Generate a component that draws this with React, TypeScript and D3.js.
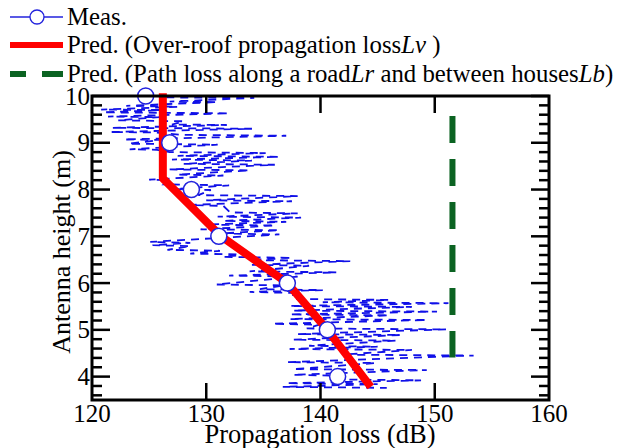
import React from "react";
import * as d3 from "d3";

const W = 619;
const H = 448;
const FONT = "Liberation Serif, Times New Roman, DejaVu Serif, serif";

// averaged measurement (circles)
const measHeight = [10, 9, 8, 7, 6, 5, 4];
const measLoss = [124.7, 126.8, 128.7, 131.1, 137.1, 140.6, 141.5];

// raw measured trace: [antenna height (m), loss (dB)]
const rawTrace: [number, number][] = [
  [9.97, 126.5], [9.96, 134.2], [9.88, 126.8], [9.87, 131.0],
  [9.79, 123.0], [9.77, 127.5], [9.71, 120.8], [9.70, 126.0],
  [9.65, 121.0], [9.63, 132.0], [9.56, 121.4], [9.55, 125.9],
  [9.48, 122.3], [9.46, 128.0], [9.39, 127.0], [9.38, 131.8],
  [9.32, 121.8], [9.30, 134.0], [9.23, 121.6], [9.22, 125.6],
  [9.17, 127.8], [9.15, 137.0], [9.07, 122.8], [9.06, 126.0],
  [8.98, 123.2], [8.96, 131.0], [8.86, 123.3], [8.85, 125.7],
  [8.80, 126.8], [8.78, 135.2], [8.72, 127.5], [8.70, 136.4],
  [8.64, 127.0], [8.62, 134.0], [8.55, 128.0], [8.53, 136.0],
  [8.43, 126.8], [8.41, 133.8], [8.32, 127.5], [8.30, 131.5],
  [8.21, 125.0], [8.20, 126.8], [8.11, 126.3], [8.09, 132.0],
  [8.01, 127.3], [7.99, 130.4], [7.88, 129.3], [7.86, 138.0],
  [7.77, 130.0], [7.75, 137.5], [7.67, 128.5], [7.65, 131.5],
  [7.51, 132.1], [7.49, 138.0], [7.42, 131.0], [7.40, 138.3],
  [7.33, 131.5], [7.31, 137.0], [7.25, 130.0], [7.23, 136.0],
  [7.15, 129.5], [7.13, 136.4], [7.06, 131.2], [7.04, 136.4],
  [6.88, 125.1], [6.86, 128.6], [6.81, 125.3], [6.79, 128.6],
  [6.71, 126.6], [6.69, 131.2], [6.63, 128.6], [6.61, 133.5],
  [6.56, 131.5], [6.54, 137.5], [6.49, 133.8], [6.47, 142.6],
  [6.39, 134.0], [6.37, 139.0], [6.25, 133.8], [6.23, 141.4],
  [6.16, 132.0], [6.14, 138.0], [5.97, 130.9], [5.95, 136.8],
  [5.87, 134.7], [5.85, 140.2], [5.81, 133.8], [5.79, 137.6],
  [5.66, 137.6], [5.64, 146.0], [5.59, 140.2], [5.57, 151.2],
  [5.51, 137.3], [5.49, 148.0], [5.41, 137.6], [5.39, 150.2],
  [5.33, 137.3], [5.31, 146.0], [5.23, 137.3], [5.21, 149.3],
  [5.13, 135.8], [5.11, 139.9], [5.03, 138.8], [5.01, 151.0],
  [4.91, 138.0], [4.89, 147.0], [4.79, 137.6], [4.77, 146.6],
  [4.66, 139.0], [4.64, 145.0], [4.59, 137.3], [4.57, 148.0],
  [4.47, 142.0], [4.45, 153.4], [4.31, 137.1], [4.29, 144.8],
  [4.16, 137.6], [4.14, 149.3], [4.04, 137.6], [4.02, 141.0],
  [3.94, 141.5], [3.92, 148.8], [3.86, 137.0], [3.84, 145.0],
  [3.78, 136.7], [3.76, 145.8],
];

// over-roof propagation loss Lv
const lvHeight = [10.06, 8.24, 7.0, 6.0, 5.0, 3.78];
const lvLoss = [126.2, 126.2, 131.3, 137.1, 140.6, 144.4];

// path loss along a road Lr and between houses Lb
const lrHeight = [9.57, 4.41];
const lrLoss = [151.55, 151.55];

const xTicks = [120, 130, 140, 150, 160];
const yTicks = [4, 5, 6, 7, 8, 9, 10];

export default function App() {
  const x = d3.scaleLinear().domain([120, 160]).range([92, 549]);
  const y = d3.scaleLinear().domain([3.5, 10]).range([400, 96]);
  const yMinor = d3.range(36, 101, 2).map((v) => v / 10);

  const line = d3
    .line<[number, number]>()
    .x((d) => x(d[1]))
    .y((d) => y(d[0]));

  const rawPath = line(rawTrace) as string;
  const lvPath = line(lvHeight.map((h, i) => [h, lvLoss[i]])) as string;
  const lrPath = line(lrHeight.map((h, i) => [h, lrLoss[i]])) as string;

  const [x0, x1] = x.range();
  const [y0, y1] = y.range();
  const txt = { fontFamily: FONT };

  return (
    <svg
      width={W}
      height={H}
      style={{ position: "absolute", left: 0, top: 0, background: "#fff", fontFamily: FONT }}
    >
      {/* raw measurement */}
      <path d={rawPath} fill="none" stroke="#1010e8" strokeWidth={1.8} strokeDasharray="8 6" />

      {/* Lr + Lb prediction */}
      <path d={lrPath} fill="none" stroke="#0b6322" strokeWidth={6} strokeDasharray="27 16" />

      {/* Lv prediction */}
      <path d={lvPath} fill="none" stroke="#ff0000" strokeWidth={8} strokeLinejoin="round" />

      {/* averaged measurement */}
      {measHeight.map((h, i) => (
        <circle key={i} cx={x(measLoss[i])} cy={y(h)} r={8} fill="#fff" stroke="#2222dd" strokeWidth={1.5} />
      ))}

      {/* frame */}
      <rect x={x0} y={y1} width={x1 - x0} height={y0 - y1} fill="none" stroke="#000" strokeWidth={3} />

      {/* x ticks */}
      {xTicks.slice(1, -1).map((t) => (
        <g key={"xt" + t} stroke="#000" strokeWidth={2.5}>
          <line x1={x(t)} x2={x(t)} y1={y0} y2={y0 - 17} />
          <line x1={x(t)} x2={x(t)} y1={y1} y2={y1 + 17} />
        </g>
      ))}
      {xTicks.map((t) => (
        <text key={"xl" + t} x={x(t)} y={422} fontSize={25} textAnchor="middle" style={txt}>
          {t}
        </text>
      ))}

      {/* y ticks */}
      {yMinor.map((t) => {
        const major = yTicks.includes(t);
        const len = major ? 18 : 10;
        return (
          <g key={"yt" + t} stroke="#000" strokeWidth={2.5}>
            <line x1={x0} x2={x0 + len} y1={y(t)} y2={y(t)} />
            <line x1={x1} x2={x1 - len} y1={y(t)} y2={y(t)} />
          </g>
        );
      })}
      {yTicks.map((t) => (
        <text key={"yl" + t} x={90} y={y(t) + 8.5} fontSize={25} textAnchor="end" style={txt}>
          {t}
        </text>
      ))}

      {/* axis titles */}
      <text x={320} y={443} fontSize={26.5} textAnchor="middle" style={txt}>
        Propagation loss (dB)
      </text>
      <text transform="translate(70,252) rotate(-90)" fontSize={26} textAnchor="middle" style={txt}>
        Antenna height (m)
      </text>

      {/* legend */}
      <g fontSize={24.8}>
        <line x1={10} x2={63} y1={17} y2={17} stroke="#2222dd" strokeWidth={1.3} />
        <circle cx={37} cy={17} r={7} fill="#fff" stroke="#2222dd" strokeWidth={1.3} />
        <text x={67} y={25} style={txt}>Meas.</text>

        <line x1={10} x2={63} y1={45} y2={45} stroke="#ff0000" strokeWidth={6} />
        <text x={67} y={53} style={txt}>
          Pred. (Over-roof propagation loss<tspan fontStyle="italic">Lv</tspan> )
        </text>

        <line x1={10} x2={63} y1={74} y2={74} stroke="#0b6322" strokeWidth={6} strokeDasharray="27 16" strokeDashoffset={11} />
        <text x={67} y={82} style={txt}>
          Pred. (Path loss along a road<tspan fontStyle="italic">Lr</tspan> and between houses<tspan fontStyle="italic">Lb</tspan>)
        </text>
      </g>
    </svg>
  );
}
